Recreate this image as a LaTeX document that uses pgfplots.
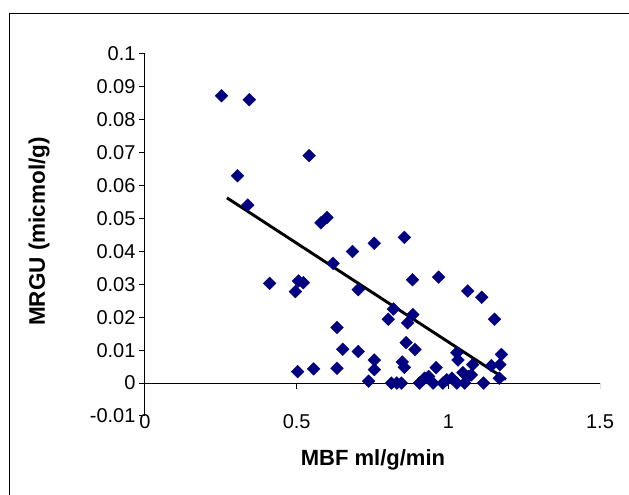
\documentclass[border=0pt]{standalone}
\usepackage{fontspec}
\setmainfont{Liberation Sans}
\usepackage{pgfplots}
\pgfplotsset{compat=1.18}
\definecolor{navy}{RGB}{0,0,128}
\pgfplotstableread{
x y
0.252 0.0873
0.344 0.0861
0.305 0.0630
0.339 0.0541
0.541 0.0691
0.411 0.0303
0.496 0.0278
0.506 0.0310
0.522 0.0305
0.503 0.0035
0.556 0.0043
0.580 0.0487
0.600 0.0503
0.620 0.0364
0.633 0.0169
0.652 0.0103
0.633 0.0045
0.684 0.0400
0.703 0.0284
0.703 0.0096
0.756 0.0425
0.756 0.0070
0.756 0.0041
0.737 0.0006
0.802 0.0194
0.819 0.0225
0.812 0.0000
0.830 0.0000
0.845 0.0000
0.855 0.0443
0.882 0.0314
0.883 0.0208
0.866 0.0183
0.861 0.0123
0.890 0.0102
0.848 0.0064
0.855 0.0048
0.968 0.0322
0.960 0.0047
0.905 0.0000
0.922 0.0015
0.935 0.0020
0.950 0.0000
0.982 0.0000
0.995 0.0010
1.012 0.0015
1.028 0.0000
1.028 0.0092
1.032 0.0070
1.048 0.0032
1.064 0.0280
1.054 0.0000
1.066 0.0020
1.080 0.0056
1.076 0.0025
1.110 0.0261
1.116 0.0000
1.152 0.0194
1.142 0.0053
1.170 0.0056
1.175 0.0087
1.168 0.0015
}\datatable
\begin{document}
\begin{tikzpicture}
\useasboundingbox (0pt,0pt) rectangle (629pt,495pt);
\draw[line width=1pt] (9pt,-5pt) -- (9pt,481.5pt) -- (640pt,481.5pt);
\begin{axis}[
  at={(145pt,79pt)}, anchor=south west,
  scale only axis, width=455pt, height=362pt,
  xmin=0, xmax=1.5, ymin=-0.01, ymax=0.1,
  axis lines*=left,
  x axis line style={draw=none},
  y axis line style={line width=1pt},
  xtick={0,0.5,1,1.5}, xticklabels={0,0.5,1,1.5},
  ytick={-0.01,0,0.01,0.02,0.03,0.04,0.05,0.06,0.07,0.08,0.09,0.1},
  yticklabels={-0.01,0,0.01,0.02,0.03,0.04,0.05,0.06,0.07,0.08,0.09,0.1},
  xtick style={draw=none},
  ytick style={line width=1pt, black},
  tick align=outside, major tick length=6pt,
  tick label style={font=\fontsize{20}{20}\selectfont},
  xticklabel style={anchor=base, yshift=-7pt},
  yticklabel style={anchor=east},
  xlabel={\textbf{MBF ml/g/min}},
  xlabel style={at={(axis description cs:0.501,-0.138)}, anchor=base, font=\fontsize{22}{22}\selectfont},
  ylabel={\textbf{MRGU (micmol/g)}},
  ylabel style={at={(axis description cs:-0.233,0.51)}, anchor=center, font=\fontsize{22.5}{22.5}\selectfont},
]
\draw[line width=1pt] (axis cs:0,0) -- (axis cs:1.5,0);
\draw[line width=1pt] (axis cs:0.5,0) -- ([yshift=-6pt]axis cs:0.5,0);
\draw[line width=1pt] (axis cs:1,0) -- ([yshift=-6pt]axis cs:1,0);
\draw[line width=1pt] (axis cs:1.5,0) -- ([yshift=-6pt]axis cs:1.5,0);
\addplot[only marks, mark=square*, mark size=4.5pt, mark options={rotate=45, fill=navy, draw=navy}] table[x=x,y=y] {\datatable};
\addplot[black, line width=2.9pt, no marks] coordinates {(0.27,0.0563) (1.19,0.0011)};
\end{axis}
\end{tikzpicture}
\end{document}
